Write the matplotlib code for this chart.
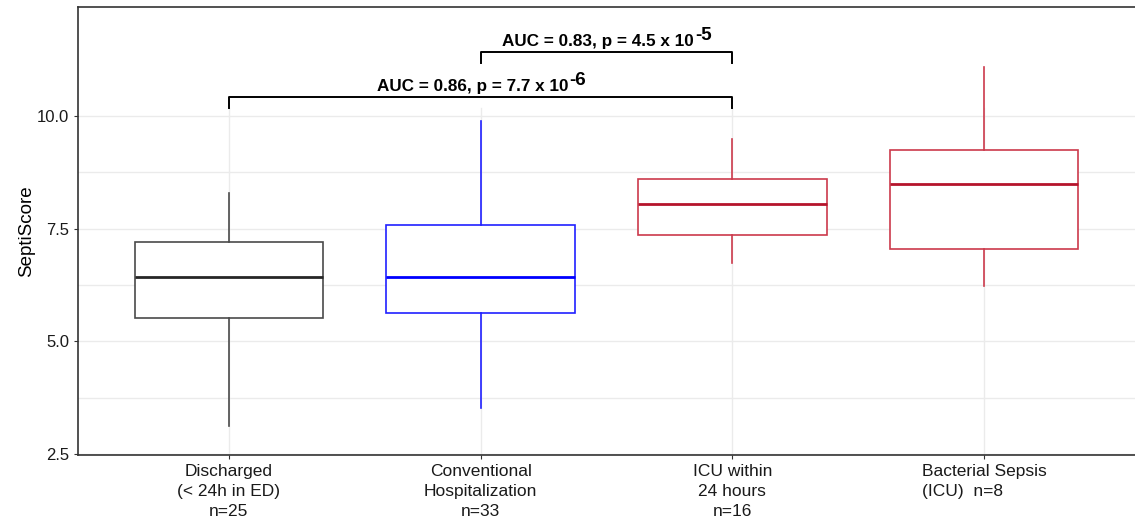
import matplotlib
matplotlib.use("Agg")
import matplotlib.pyplot as plt

# group labels and counts
labels = ["Discharged\n(< 24h in ED)\nn=25",
          "Conventional\nHospitalization\nn=33",
          "ICU within\n24 hours\nn=16",
          "Bacterial Sepsis\n(ICU)  n=8"]
whislo = [3.12, 3.52, 6.73, 6.22]
q1 = [5.51, 5.62, 7.37, 7.04]
med = [6.42, 6.42, 8.05, 8.50]
q3 = [7.21, 7.59, 8.61, 9.25]
whishi = [8.30, 9.89, 9.49, 11.08]

edge_colors = ["#4a4a4a", "#2020ff", "#cc3a4c", "#cc3a4c"]
median_colors = ["#262626", "#0000ff", "#b5142b", "#b5142b"]

# significance brackets: (x1, x2, y, text, exponent)
brackets = [(1, 3, 10.42, "AUC = 0.86, p = 7.7 x 10", "-6"),
            (2, 3, 11.42, "AUC = 0.83, p = 4.5 x 10", "-5")]

plt.rcParams["font.family"] = ["Liberation Sans", "DejaVu Sans"]

fig = plt.figure(figsize=(11.35, 5.27), dpi=100)
ax = fig.add_axes([0.0687, 0.1366, 0.9313, 0.8501])

ylo, yhi = 2.48, 12.42
ax.set_xlim(0.4, 4.6)
ax.set_ylim(ylo, yhi)

# grid (only below the annotation area)
grid_top = 10.18
for y in [2.5, 3.75, 5.0, 6.25, 7.5, 8.75, 10.0]:
    ax.plot([0.4, 4.6], [y, y], color="#ebebeb", lw=1.0, zorder=0)
for x in range(1, 5):
    ax.plot([x, x], [ylo, grid_top], color="#ebebeb", lw=1.0, zorder=0)

stats = []
for i in range(len(labels)):
    stats.append(dict(whislo=whislo[i], q1=q1[i], med=med[i],
                      q3=q3[i], whishi=whishi[i], fliers=[]))

for i, s in enumerate(stats):
    ax.bxp([s], positions=[i + 1], widths=0.75, showcaps=False,
           showfliers=False, patch_artist=True,
           boxprops=dict(facecolor="white", edgecolor=edge_colors[i], lw=1.2),
           whiskerprops=dict(color=edge_colors[i], lw=1.2),
           medianprops=dict(color=median_colors[i], lw=2.0),
           manage_ticks=False, zorder=2)

ax.set_xticks(range(1, 5))
ax.set_xticklabels(labels, fontsize=12.5, linespacing=1.4)
ax.get_xticklabels()[3].set_multialignment("left")
ax.set_yticks([2.5, 5.0, 7.5, 10.0])
ax.set_yticklabels(["2.5", "5.0", "7.5", "10.0"], fontsize=12)
ax.set_ylabel("SeptiScore", fontsize=13.5, labelpad=1)

ax.tick_params(axis="both", color="#333333", length=3, labelcolor="#1a1a1a")
ax.spines["right"].set_visible(False)
for sp in ["left", "bottom", "top"]:
    ax.spines[sp].set_color("#333333")
    ax.spines[sp].set_linewidth(1.2)

# brackets with text and a separate superscript exponent
fig.canvas.draw()
renderer = fig.canvas.get_renderer()
for x1, x2, y, txt, expo in brackets:
    ax.plot([x1, x1, x2, x2], [y - 0.24, y, y, y - 0.24], color="black", lw=1.4, zorder=3)
    base = ax.text((x1 + x2) / 2, y + 0.07, txt, ha="left", va="bottom",
                   fontsize=12.3, fontweight="bold", zorder=3)
    sup = ax.text((x1 + x2) / 2, y + 0.07, expo, ha="left", va="bottom",
                  fontsize=13.5, fontweight="bold", zorder=3)
    wb = base.get_window_extent(renderer).width
    ws = sup.get_window_extent(renderer).width
    cx = ax.transData.transform(((x1 + x2) / 2, y))[0]
    inv = ax.transData.inverted()
    xb = inv.transform((cx - (wb + ws) / 2, 0))[0]
    xs = inv.transform((cx - (wb + ws) / 2 + wb + 1, 0))[0]
    base.set_x(xb)
    sup.set_x(xs)
    sup.set_y(y + 0.07 + 0.1)

fig.savefig("out.png", dpi=100)
